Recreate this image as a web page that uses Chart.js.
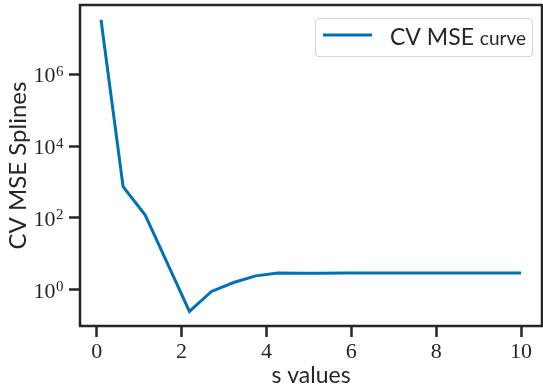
<!DOCTYPE html>
<html>
<head>
<meta charset="utf-8">
<script src="https://cdn.jsdelivr.net/npm/chart.js@4"></script>
<style>
  html, body { margin: 0; padding: 0; background: #fff; }
</style>
</head>
<body>
<canvas id="cv" width="543" height="387"></canvas>
<script>
// smoothing parameter s and the cross-validated MSE for each
const sValues = [0.1, 0.621, 1.142, 1.663, 2.184, 2.705, 3.226, 3.747, 4.268, 4.789,
                 5.311, 5.832, 6.353, 6.874, 7.395, 7.916, 8.437, 8.958, 9.479, 10.0];
const cvMse = [3.3e7, 740, 120, 5.5, 0.25, 0.9, 1.6, 2.45, 2.92, 2.9,
               2.91, 2.92, 2.92, 2.92, 2.92, 2.92, 2.92, 2.92, 2.92, 2.92];

const xTicks = [0, 2, 4, 6, 8, 10];
const yTicks = [1, 100, 1e4, 1e6];
const yTickExponents = ["0", "2", "4", "6"];

const legendMain = "CV MSE";
const legendSmall = "curve";
const xTitle = "s values";
const yTitle = "CV MSE Splines";

const INK = "#262626";
const BLUE = "#0072B2";
const SANS = "Lato";
const SERIF = "Liberation Serif";

// frame on all four sides, like the seaborn "ticks" style
const framePlugin = {
    id: "frame",
    afterDatasetsDraw(chart) {
        const { ctx, chartArea: a } = chart;
        ctx.save();
        ctx.strokeStyle = INK;
        ctx.lineWidth = 2.5;
        ctx.strokeRect(a.left, a.top, a.right - a.left, a.bottom - a.top);
        ctx.restore();
    },
};

// y tick labels as 10 with a raised exponent
const powerLabels = {
    id: "powerLabels",
    afterDraw(chart) {
        const { ctx } = chart;
        const scale = chart.scales.y;
        const right = scale.right - 17;
        ctx.save();
        ctx.fillStyle = INK;
        ctx.textBaseline = "alphabetic";
        ctx.textAlign = "left";
        yTicks.forEach((v, i) => {
            const y = scale.getPixelForValue(v);
            ctx.font = `15px "${SERIF}"`;
            const sw = ctx.measureText(yTickExponents[i]).width;
            ctx.font = `22px "${SERIF}"`;
            const bw = ctx.measureText("10").width;
            const x0 = right - sw - bw;
            ctx.fillText("10", x0, y + 8);
            ctx.font = `15px "${SERIF}"`;
            ctx.fillText(yTickExponents[i], x0 + bw + 0.5, y + 1.5);
        });
        ctx.restore();
    },
};

// legend box with the smaller trailing word
const legendBox = {
    id: "legendBox",
    afterDraw(chart) {
        const { ctx } = chart;
        const ds = chart.data.datasets[0];
        const a = chart.chartArea;
        const w = 217, h = 38;
        const x = a.right - 10 - w, y = a.top + 13;
        ctx.save();
        ctx.fillStyle = "rgba(255,255,255,0.8)";
        ctx.strokeStyle = "#d6d6d6";
        ctx.lineWidth = 1.2;
        ctx.beginPath();
        ctx.roundRect(x + 0.5, y + 0.5, w, h, 4);
        ctx.fill();
        ctx.stroke();

        ctx.strokeStyle = ds.borderColor;
        ctx.lineWidth = ds.borderWidth;
        ctx.beginPath();
        ctx.moveTo(x + 8, y + 17);
        ctx.lineTo(x + 57, y + 17);
        ctx.stroke();

        ctx.fillStyle = INK;
        ctx.textBaseline = "alphabetic";
        ctx.font = `23px "${SANS}"`;
        ctx.fillText(legendMain, x + 75, y + 27);
        const mw = ctx.measureText(legendMain + " ").width;
        ctx.font = `19px "${SANS}"`;
        ctx.fillText(legendSmall, x + 75 + mw, y + 27);
        ctx.restore();
    },
};

new Chart(document.getElementById("cv"), {
    type: "line",
    data: {
        labels: sValues,
        datasets: [{
            label: legendMain + " " + legendSmall,
            data: sValues.map((s, i) => ({ x: s, y: cvMse[i] })),
            borderColor: BLUE,
            borderWidth: 3,
            pointRadius: 0,
            tension: 0,
            fill: false,
        }],
    },
    options: {
        responsive: false,
        animation: false,
        devicePixelRatio: 1,
        layout: { padding: { top: 5, right: 1, left: 0, bottom: 0 } },
        plugins: {
            legend: { display: false },
            tooltip: { enabled: false },
        },
        scales: {
            x: {
                type: "linear",
                min: -0.395,
                max: 10.495,
                afterBuildTicks: (scale) => { scale.ticks = xTicks.map((v) => ({ value: v })); },
                afterFit: (scale) => { scale.height = 61; },
                border: { display: false },
                grid: {
                    drawOnChartArea: false,
                    drawTicks: true,
                    tickLength: 11,
                    tickWidth: 2.5,
                    tickColor: INK,
                },
                ticks: {
                    color: INK,
                    font: { family: SERIF, size: 22 },
                    padding: 2,
                    maxRotation: 0,
                },
                title: {
                    display: true,
                    text: xTitle,
                    color: INK,
                    font: { family: SANS, size: 23, lineHeight: 1.0 },
                    padding: { top: 0, bottom: 0 },
                },
            },
            y: {
                type: "logarithmic",
                min: Math.pow(10, -1.007),
                max: Math.pow(10, 7.93),
                afterBuildTicks: (scale) => { scale.ticks = yTicks.map((v) => ({ value: v })); },
                afterFit: (scale) => { scale.width = 80; },
                border: { display: false },
                grid: {
                    drawOnChartArea: false,
                    drawTicks: true,
                    tickLength: 11,
                    tickWidth: 2.5,
                    tickColor: INK,
                },
                ticks: { display: false },
                title: {
                    display: true,
                    text: yTitle,
                    color: INK,
                    font: { family: SANS, size: 24 },
                    padding: { top: 4, bottom: 0 },
                },
            },
        },
    },
    plugins: [framePlugin, powerLabels, legendBox],
});
</script>
</body>
</html>
